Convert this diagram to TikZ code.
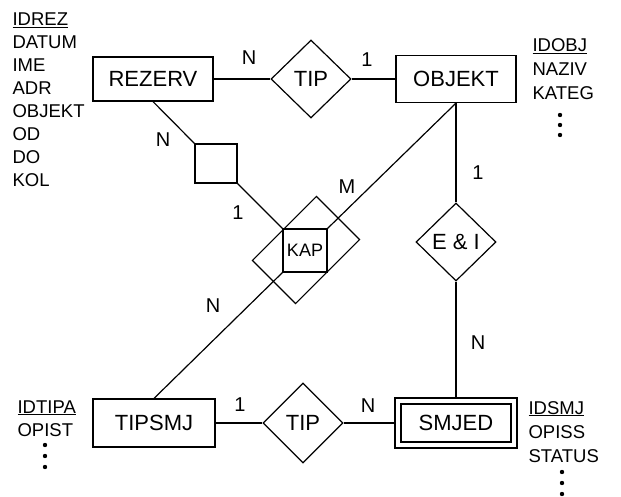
\documentclass[tikz,border=0pt]{standalone}
\usepackage{fontspec}
\setmainfont{Liberation Sans}
\usetikzlibrary{shapes.geometric}
\begin{document}
\begin{tikzpicture}[x=1pt,y=-1pt,line width=1.2pt,
  ent/.style={draw,rectangle,inner sep=0pt,font=\fontsize{22}{22}\selectfont},
  rel/.style={draw,diamond,inner sep=0pt,minimum width=80pt,minimum height=78pt,font=\fontsize{22}{22}\selectfont},
  card/.style={inner sep=0pt,font=\fontsize{20}{20}\selectfont},
  attr/.style={inner sep=0pt,anchor=base west,font=\fontsize{18.5}{18.5}\selectfont}]
\useasboundingbox (0,0) rectangle (621,497);

% entities
\node[ent,minimum width=120pt,minimum height=44pt] (rez) at (153,79) {REZERV};
\node[ent,minimum width=120pt,minimum height=47pt] (obj) at (456,79) {OBJEKT};
\node[ent,minimum width=122pt,minimum height=48pt] (tipsmj) at (154,423) {TIPSMJ};
\node[ent,minimum width=116pt,minimum height=44pt,double,double distance=4.8pt,outer sep=3.6pt] (smjed) at (456,423) {SMJED};

% relationships
\node[rel] (tip1) at (311,79) {TIP};
\node[rel,font=\fontsize{22}{22}\selectfont] (ei) at (456,242) {E \& I};
\node[rel,minimum height=80pt] (tip2) at (303,423) {TIP};

% aggregation square and KAP
\node[draw,rectangle,minimum width=42pt,minimum height=39pt,inner sep=0pt] (sq) at (216,163.5) {};
\node[draw,rectangle,minimum width=90.5pt,minimum height=61pt,rotate=45,inner sep=0pt] (kapr) at (306,250) {};

% connectors
\draw (rez.east) -- (tip1.west);
\draw (tip1.east) -- (obj.west);
\draw (rez.south) -- (sq.north west);
\draw (obj.south) -- (ei.north);
\draw (ei.south) -- (smjed.north);
\draw (tipsmj.east) -- (tip2.west);
\draw (tip2.east) -- (smjed.west);

\node[draw,rectangle,fill=white,minimum width=44pt,minimum height=43pt,inner sep=0pt,font=\fontsize{18}{18}\selectfont] (kap) at (305,250.5) {KAP};
\draw (sq.south east) -- (kap.north west);
\draw (obj.south) -- (kap.north east);
\draw (kap.south west) -- (tipsmj.north);

% cardinalities
\node[card] (c1) at (249,58) {N};
\node[card] (c2) at (367,60) {1};
\node[card] (c3) at (163,140) {N};
\node[card] (c4) at (238,213) {1};
\node[card] (c5) at (347,187) {M};
\node[card] (c6) at (213,306) {N};
\node[card] (c7) at (478,173) {1};
\node[card] (c8) at (478,343) {N};
\node[card] (c9) at (240,405) {1};
\node[card] (c10) at (368,406) {N};

% attributes
\foreach \t [count=\i] in {\underline{IDREZ},DATUM,IME,ADR,OBJEKT,OD,DO,KOL}
  \node[attr] (ra\i) at (12,{26+23*(\i-1)}) {\t};
\foreach \t [count=\i] in {\underline{IDOBJ},NAZIV,KATEG}
  \node[attr] (oa\i) at (532,{52+24*(\i-1)}) {\t};
\foreach \t [count=\i] in {\underline{IDTIPA},OPIST}
  \node[attr] (ta\i) at (17,{413+23*(\i-1)}) {\t};
\foreach \t [count=\i] in {\underline{IDSMJ},OPISS,STATUS}
  \node[attr] (sa\i) at (528,{414+24*(\i-1)}) {\t};

% continuation dots
\foreach \y in {115,125,135} \fill (560,\y) circle (2.2pt);
\foreach \y in {445,456,467} \fill (45,\y) circle (2.2pt);
\foreach \y in {472,483,494} \fill (562,\y) circle (2.2pt);
\end{tikzpicture}
\end{document}
